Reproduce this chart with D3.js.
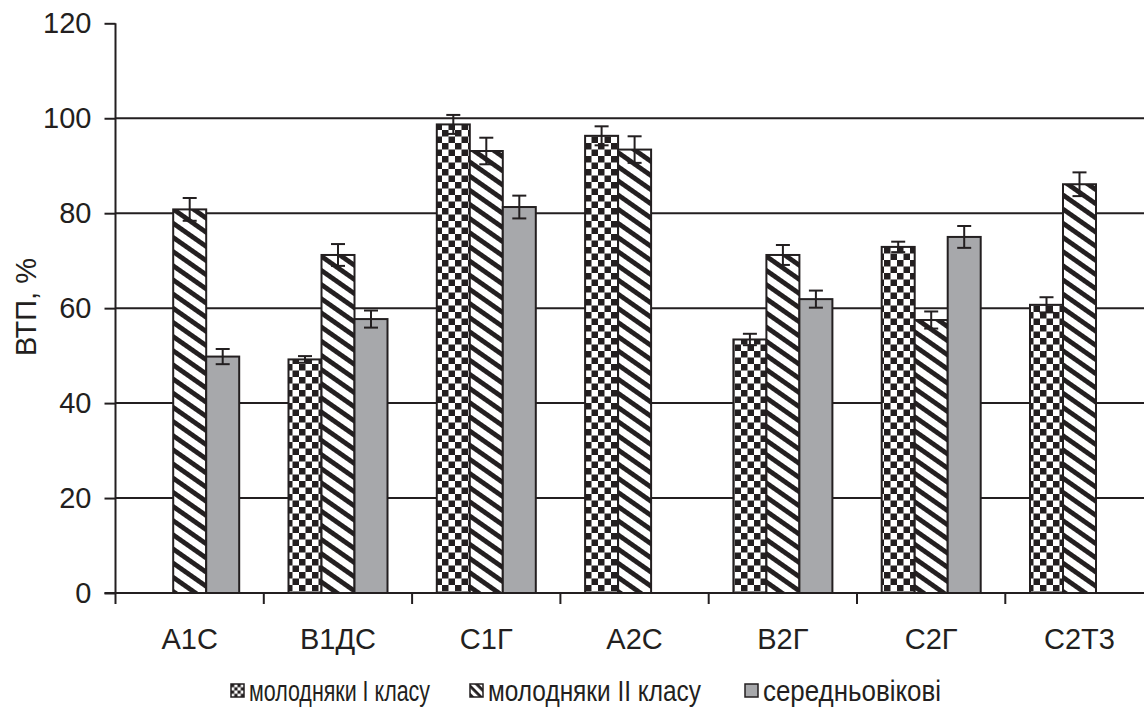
<!DOCTYPE html>
<html>
<head>
<meta charset="utf-8">
<script src="https://cdn.jsdelivr.net/npm/d3@7"></script>
<style>
  html, body { margin: 0; padding: 0; background: #fff; }
  svg { display: block; font-family: "Liberation Sans", Arial, sans-serif; }
</style>
</head>
<body>
<svg id="chart" width="1144" height="725"></svg>
<script>
// Stand types (x categories)
const categories = ["А1С", "В1ДС", "С1Г", "А2С", "В2Г", "С2Г", "С2Т3"];
// Series keys and legend names
const seriesKeys = ["young1", "young2", "middle"];
const seriesNames = ["молодняки I класу", "молодняки II класу", "середньовікові"];
// ВТП, % with standard errors (null = no data)
const young1 = [null, 49.2, 98.7, 96.3, 53.4, 72.9, 60.7];
const young1Err = [null, 0.7, 2.0, 2.0, 1.2, 1.1, 1.6];
const young2 = [80.8, 71.2, 93.1, 93.4, 71.2, 57.5, 86.1];
const young2Err = [2.4, 2.3, 2.8, 2.8, 2.1, 1.8, 2.5];
const middle = [49.8, 57.7, 81.3, null, 61.9, 75.0, null];
const middleErr = [1.6, 1.8, 2.4, null, 1.8, 2.3, null];
const yTicks = [0, 20, 40, 60, 80, 100, 120];
const gridValues = [20, 40, 60, 80, 100];

const ink = "#231f20";
const grey = "#a7a8ab";

const svg = d3.select("#chart");
const plotLeft = 115.5, plotBottom = 593, plotTop = 23.3, step = 148.3;

const x = d3.scaleBand().domain(categories).range([plotLeft, plotLeft + step * categories.length]).padding(0);
const xs = d3.scaleBand().domain(seriesKeys).range([24.7, 123.7]).padding(0);
const y = d3.scaleLinear().domain([0, 120]).range([plotBottom, plotTop]);

// Fill patterns
const defs = svg.append("defs");
const chk = defs.append("pattern").attr("id", "pat-check")
  .attr("patternUnits", "userSpaceOnUse").attr("width", 13).attr("height", 13);
chk.append("rect").attr("width", 13).attr("height", 13).attr("fill", "#fff");
chk.append("rect").attr("width", 6.5).attr("height", 6.5).attr("fill", ink);
chk.append("rect").attr("x", 6.5).attr("y", 6.5).attr("width", 6.5).attr("height", 6.5).attr("fill", ink);

const diag = defs.append("pattern").attr("id", "pat-diag")
  .attr("patternUnits", "userSpaceOnUse").attr("width", 20).attr("height", 11.6)
  .attr("patternTransform", "rotate(35)");
diag.append("rect").attr("width", 20).attr("height", 11.6).attr("fill", "#fff");
diag.append("rect").attr("width", 20).attr("height", 4.8).attr("fill", ink);

// Small versions of the patterns for legend swatches
const chkS = defs.append("pattern").attr("id", "pat-check-small")
  .attr("patternUnits", "userSpaceOnUse").attr("width", 6.5).attr("height", 6.5);
chkS.append("rect").attr("width", 6.5).attr("height", 6.5).attr("fill", "#fff");
chkS.append("rect").attr("width", 3.25).attr("height", 3.25).attr("fill", ink);
chkS.append("rect").attr("x", 3.25).attr("y", 3.25).attr("width", 3.25).attr("height", 3.25).attr("fill", ink);
const diagS = defs.append("pattern").attr("id", "pat-diag-small")
  .attr("patternUnits", "userSpaceOnUse").attr("width", 10).attr("height", 6)
  .attr("patternTransform", "rotate(45)");
diagS.append("rect").attr("width", 10).attr("height", 6).attr("fill", "#fff");
diagS.append("rect").attr("width", 10).attr("height", 2.8).attr("fill", ink);

const fills = { young1: "url(#pat-check)", young2: "url(#pat-diag)", middle: grey };
const legendFills = { young1: "url(#pat-check-small)", young2: "url(#pat-diag-small)", middle: grey };

// Gridlines
svg.append("g").selectAll("line").data(gridValues).join("line")
  .attr("x1", plotLeft).attr("x2", 1144)
  .attr("y1", d => y(d)).attr("y2", d => y(d))
  .attr("stroke", ink).attr("stroke-width", 2);

// Build rows
const valueMap = { young1, young2, middle };
const errMap = { young1: young1Err, young2: young2Err, middle: middleErr };
const rows = [];
categories.forEach((c, i) => {
  seriesKeys.forEach(k => {
    if (valueMap[k][i] != null) rows.push({ cat: c, key: k, v: valueMap[k][i], e: errMap[k][i] });
  });
});

// Bars
svg.append("g").selectAll("rect").data(rows).join("rect")
  .attr("x", d => x(d.cat) + xs(d.key))
  .attr("width", xs.bandwidth())
  .attr("y", d => y(d.v))
  .attr("height", d => y(0) - y(d.v))
  .attr("fill", d => fills[d.key])
  .attr("stroke", ink).attr("stroke-width", 2);

// Error bars
const eb = svg.append("g").attr("stroke", ink).attr("stroke-width", 2);
rows.forEach(d => {
  const cx = x(d.cat) + xs(d.key) + xs.bandwidth() / 2;
  eb.append("line").attr("x1", cx).attr("x2", cx).attr("y1", y(d.v + d.e)).attr("y2", y(d.v - d.e));
  [d.v + d.e, d.v - d.e].forEach(t => {
    eb.append("line").attr("x1", cx - 7).attr("x2", cx + 7).attr("y1", y(t)).attr("y2", y(t));
  });
});

// Y axis
const yAxis = svg.append("g").attr("transform", `translate(${plotLeft},0)`)
  .call(d3.axisLeft(y).tickValues(yTicks).tickSize(11).tickPadding(13).tickSizeOuter(0));
yAxis.select(".domain").attr("stroke", ink).attr("stroke-width", 2)
  .attr("d", `M0,${y(120)}V${plotBottom + 11}`);
yAxis.selectAll(".tick line").attr("stroke", ink).attr("stroke-width", 2);
yAxis.selectAll(".tick text").attr("fill", ink).style("font-size", "29px");

// X axis: labels centered in bands, ticks at band boundaries
const xAxis = svg.append("g").attr("transform", `translate(0,${plotBottom})`)
  .call(d3.axisBottom(x).tickSize(0).tickPadding(35).tickSizeOuter(0));
xAxis.select(".domain").remove();
xAxis.selectAll(".tick text").attr("fill", ink).style("font-size", "29px");
svg.append("line").attr("x1", plotLeft - 11).attr("x2", 1144).attr("y1", plotBottom).attr("y2", plotBottom)
  .attr("stroke", ink).attr("stroke-width", 2);
svg.append("g").selectAll("line").data(categories.slice(1)).join("line")
  .attr("x1", d => x(d)).attr("x2", d => x(d))
  .attr("y1", plotBottom).attr("y2", plotBottom + 11)
  .attr("stroke", ink).attr("stroke-width", 2);

// Y axis title
svg.append("text")
  .attr("transform", `translate(36,307) rotate(-90)`)
  .attr("text-anchor", "middle")
  .attr("fill", ink).style("font-size", "29px")
  .text("ВТП, %");

// Legend
const legendX = [231, 470, 745];
const legendTextLen = [181, 213, 178];
const lg = svg.append("g");
seriesKeys.forEach((k, i) => {
  const g = lg.append("g").attr("transform", `translate(${legendX[i]},684)`);
  g.append("rect").attr("width", 13).attr("height", 13)
    .attr("fill", legendFills[k])
    .attr("stroke", ink).attr("stroke-width", 1.5);
  g.append("text").attr("x", 18).attr("y", 17)
    .attr("fill", ink).style("font-size", "30px")
    .attr("textLength", legendTextLen[i]).attr("lengthAdjust", "spacingAndGlyphs")
    .text(seriesNames[i]);
});
</script>
</body>
</html>
